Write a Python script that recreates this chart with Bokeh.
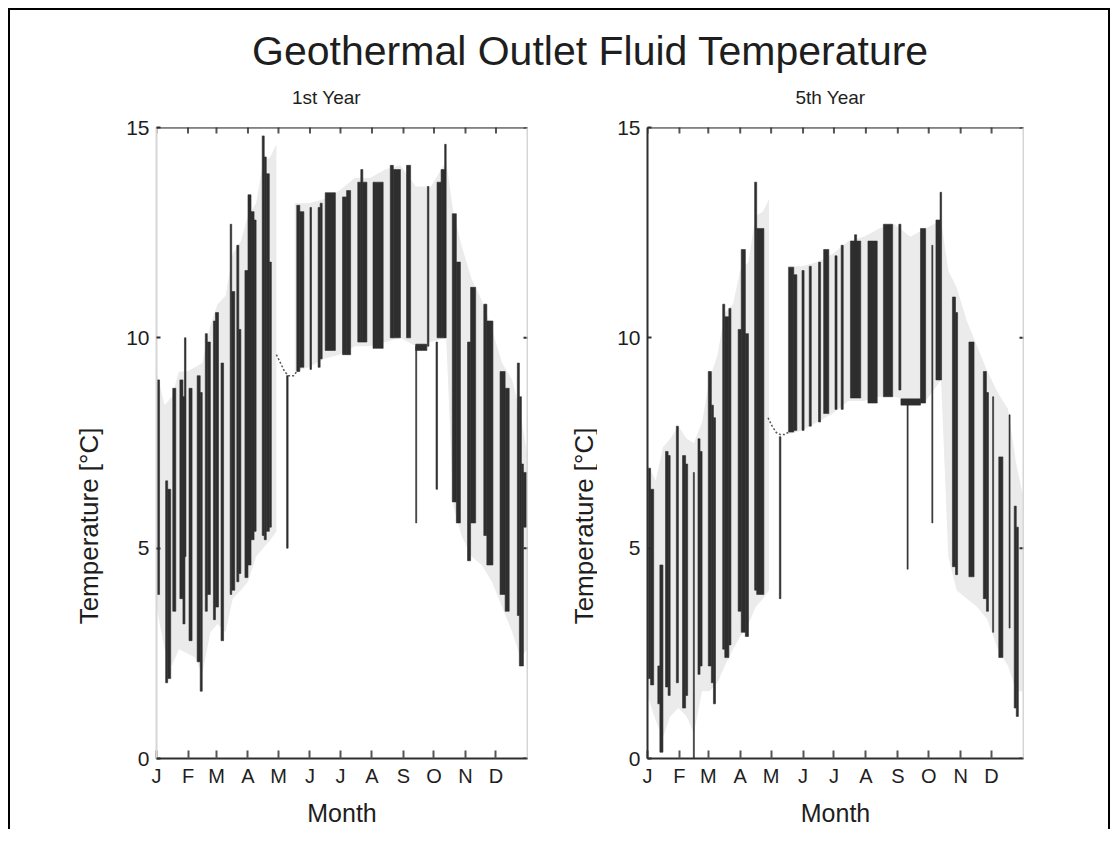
import math
from bokeh.plotting import figure
from bokeh.models import FixedTicker, LinearAxis, Range1d, Label, Span
from bokeh.layouts import column, row
from bokeh.embed import file_html
from bokeh.resources import INLINE

# ---------------- data ----------------
month_starts = [0, 31, 59, 90, 120, 151, 181, 212, 243, 273, 304, 334]
month_labels = ["J", "F", "M", "A", "M", "J", "J", "A", "S", "O", "N", "D"]
temp_ticks = [0, 5, 10, 15]

# 1st year: dark oscillation bands (day start, day end, low, high)
y1_d0 = [0.5, 9, 11, 16, 23, 26, 27.5, 32, 40, 43, 48, 50, 56, 58, 63.5, 72.5, 74, 79, 81, 87, 90, 93, 96,
         104, 106, 108, 111, 128, 138, 141, 151, 159, 161, 166, 183, 187, 198, 201, 203, 213, 230, 233,
         246, 255, 255, 266.5, 275, 276, 280, 283.5, 291, 295, 306, 309, 322, 325, 338, 343, 355, 357,
         359, 361]
y1_d1 = [3, 11, 14, 19, 26, 28, 29, 35, 43, 45, 50, 53, 58, 61, 66, 74, 77, 81, 83, 90, 93, 96, 98,
         106, 108, 111, 113, 129.5, 141, 145, 152.5, 161, 163, 176, 187, 191, 201, 203, 207, 223, 233, 240,
         250, 256, 266, 268, 276.5, 280, 284, 285, 295, 299, 309, 314, 325, 331, 343, 347, 357, 359,
         361, 364]
y1_lo = [3.9, 1.8, 1.9, 3.5, 3.8, 3.2, 4.8, 2.8, 2.3, 1.6, 3.5, 3.9, 3.3, 3.6, 2.8, 3.9, 4.0, 4.2, 4.4, 4.3, 4.6,
         5.2, 5.4, 5.3, 5.2, 5.4, 5.5, 5.0, 9.2, 9.3, 9.25, 9.3, 9.5, 9.7, 9.6, 9.6, 9.9, 9.9, 9.9, 9.75,
         10.0, 10.0, 10.0, 5.6, 9.7, 9.8, 6.4, 10.0, 10.0, 10.0, 6.1, 5.6, 4.7, 5.6, 5.3, 4.6, 3.9, 3.5,
         3.4, 2.2, 2.2, 5.5]
y1_hi = [9.0, 6.6, 6.4, 8.8, 9.0, 8.6, 10.0, 8.8, 9.1, 8.7, 10.1, 9.9, 10.4, 10.6, 9.4, 12.7, 11.1, 12.2, 10.2,
         11.6, 13.4, 13.0, 12.8, 14.8, 14.3, 13.9, 11.8, 9.1, 13.15, 13.0, 13.1, 13.1, 13.2, 13.45, 13.35,
         13.5, 13.7, 14.0, 13.7, 13.7, 14.1, 14.0, 14.1, 9.8, 9.85, 13.6, 9.9, 13.7, 14.0, 14.6, 12.95,
         11.8, 9.9, 11.2, 10.8, 10.4, 9.2, 8.8, 9.4, 8.6, 7.0, 6.8]

# 1st year: light envelope (spring, then summer/autumn)
y1_env1_day = [0, 8, 15, 22, 30, 38, 45, 53, 60, 68, 75, 83, 90, 98, 105, 112, 118]
y1_env1_lo = [3.6, 2.6, 2.2, 2.6, 2.5, 2.4, 2.0, 3.0, 3.2, 3.0, 3.8, 4.0, 4.2, 4.8, 5.0, 5.2, 5.4]
y1_env1_hi = [9.2, 8.4, 8.6, 9.2, 9.2, 9.3, 9.4, 10.3, 10.8, 11.0, 12.0, 12.3, 12.9, 13.2, 14.2, 14.3, 14.6]
y1_env2_day = [136, 150, 165, 180, 195, 210, 225, 240, 255, 270, 285, 292, 300, 310, 320, 330, 340, 350, 358, 365]
y1_env2_lo = [9.2, 9.3, 9.5, 9.6, 9.8, 9.8, 9.9, 10.0, 9.8, 9.9, 10.0, 6.0, 5.3, 4.8, 4.6, 4.2, 3.6, 3.0, 2.4, 2.6]
y1_env2_hi = [13.2, 13.2, 13.3, 13.5, 13.8, 13.8, 14.0, 14.1, 13.6, 13.6, 14.2, 13.0, 12.2, 11.4, 10.9, 10.2,
              9.4, 9.0, 8.2, 7.2]
# 1st year: transition in May
y1_tr_day = [118, 122, 126, 130, 135, 138]
y1_tr_t = [9.6, 9.4, 9.2, 9.1, 9.1, 9.2]

# 5th year: dark oscillation bands
y5_d0 = [1, 3, 10, 12, 17.5, 20, 28, 34, 37, 44.5, 49, 51, 59, 62, 64, 73, 75, 79, 88, 91, 95, 104, 106,
         128, 137, 142, 150, 157, 166, 171, 182, 188, 197, 201, 214, 229, 244, 246, 252, 265, 276, 280,
         284, 296, 299, 312, 326, 329, 335, 341, 351, 356, 358]
y5_d1 = [3, 6, 12, 15, 20, 22, 30, 37, 39, 45.5, 51, 53, 62, 64, 66, 75, 79, 81, 91, 95, 98, 106, 113,
         129.5, 142, 145, 152, 159, 168, 176, 184, 190, 207, 203, 223, 238, 246, 265, 253, 270, 277, 284,
         285.5, 299, 301, 317, 329, 331, 336, 345, 352, 358, 360]
y5_lo = [1.9, 1.75, 1.3, 0.15, 1.7, 1.5, 1.8, 1.2, 1.5, 0.0, 2.0, 2.2, 2.2, 1.8, 1.3, 2.6, 2.4, 2.7, 3.5, 3.0,
         2.9, 4.0, 3.9, 3.8, 7.76, 7.8, 7.8, 7.9, 8.0, 8.2, 8.3, 8.3, 8.57, 8.6, 8.45, 8.6, 8.76, 8.4,
         4.5, 8.45, 5.6, 9.0, 9.0, 4.56, 4.37, 4.32, 3.8, 3.5, 3.0, 2.4, 3.1, 1.2, 1.0]
y5_hi = [6.9, 6.4, 2.2, 4.6, 7.3, 7.2, 7.9, 7.2, 7.0, 6.8, 7.6, 7.3, 9.2, 8.4, 8.1, 10.8, 10.5, 10.7, 10.2,
         12.1, 10.1, 13.7, 12.6, 7.65, 11.68, 11.5, 11.6, 11.7, 11.8, 12.1, 11.95, 12.2, 12.3, 12.45,
         12.3, 12.7, 12.7, 8.55, 8.45, 12.6, 12.2, 12.8, 13.46, 10.97, 10.6, 9.9, 9.2, 8.7, 8.6, 7.17,
         8.17, 6.0, 5.5]

y5_env1_day = [0, 8, 15, 22, 30, 38, 45, 53, 60, 68, 75, 83, 90, 98, 105, 112, 118]
y5_env1_lo = [1.5, 0.9, 0.5, 1.0, 1.2, 1.0, 0.6, 1.6, 1.6, 1.8, 2.2, 2.6, 2.9, 3.2, 3.6, 3.8, 4.0]
y5_env1_hi = [7.0, 6.6, 7.4, 7.6, 7.9, 7.6, 7.5, 8.0, 9.0, 9.6, 10.6, 10.8, 11.6, 11.8, 12.9, 13.0, 13.3]
y5_env2_day = [136, 150, 165, 180, 195, 210, 225, 240, 255, 270, 285, 292, 300, 310, 320, 330, 340, 350, 358, 365]
y5_env2_lo = [7.7, 7.8, 8.0, 8.2, 8.5, 8.5, 8.6, 8.6, 8.5, 8.5, 9.0, 4.8, 4.0, 3.8, 3.6, 3.3, 2.6, 2.2, 1.6, 1.6]
y5_env2_hi = [11.7, 11.7, 11.8, 12.0, 12.3, 12.4, 12.6, 12.7, 12.4, 12.6, 12.8, 11.6, 11.2, 10.4, 9.8, 9.2,
              8.7, 8.3, 7.0, 6.2]
y5_tr_day = [117, 121, 125, 129, 133, 137]
y5_tr_t = [8.1, 7.9, 7.75, 7.7, 7.7, 7.76]

FONT = "Liberation Sans"
TXT = "#1e1e1e"
DARK = "#2e2e2e"
ENV = "#ebebeb"
LIGHT = "#d6d6d6"
PANEL_H = 17 + 632 + 70


def panel(d0, d1, lo, hi, e1d, e1lo, e1hi, e2d, e2lo, e2hi, trd, trt,
          left_border, right_border, frame_w, left_line_color):
    p = figure(width=left_border + frame_w + right_border, height=PANEL_H,
               x_range=Range1d(0, 365), y_range=Range1d(0, 15),
               toolbar_location=None, output_backend="svg",
               min_border_left=left_border, min_border_right=right_border,
               min_border_top=17, min_border_bottom=70,
               x_axis_location=None, y_axis_location=None)
    p.grid.visible = False
    p.outline_line_color = LIGHT
    p.outline_line_width = 1
    p.background_fill_color = "white"
    p.border_fill_color = "white"

    p.varea(x=e1d, y1=e1lo, y2=e1hi, fill_color=ENV)
    p.varea(x=e2d, y1=e2lo, y2=e2hi, fill_color=ENV)
    p.line(x=trd, y=trt, line_color="#555555", line_width=1.5, line_dash="2 2")
    p.quad(left=d0, right=d1, bottom=lo, top=hi, fill_color=DARK, line_color=DARK, line_width=0.6)

    # inward ticks on the top and right edges of the box
    p.scatter(x=month_starts, y=[15] * len(month_starts), marker="dash", angle=math.pi / 2,
              size=12, line_color="#555555", line_width=2)
    p.scatter(x=[365] * len(temp_ticks), y=temp_ticks, marker="dash",
              size=8, line_color=DARK, line_width=2)
    p.add_layout(Span(location=15, dimension="width", line_color=DARK, line_width=2))
    p.add_layout(Span(location=365, dimension="height", line_color=LIGHT, line_width=2))

    xt = FixedTicker(ticks=month_starts)
    yt = FixedTicker(ticks=temp_ticks)

    xb = LinearAxis(ticker=xt, axis_label="Month")
    xb.major_label_overrides = {m: l for m, l in zip(month_starts, month_labels)}
    xb.major_tick_in = 8
    xb.major_tick_out = 0
    xb.minor_tick_line_color = None
    xb.axis_line_color = DARK
    xb.axis_line_width = 2
    xb.major_tick_line_color = "#555555"
    xb.major_tick_line_width = 2
    xb.major_label_standoff = 6
    xb.major_label_text_font = FONT
    xb.major_label_text_font_size = "20px"
    xb.major_label_text_color = TXT
    xb.axis_label_text_font = FONT
    xb.axis_label_text_font_size = "25px"
    xb.axis_label_text_font_style = "normal"
    xb.axis_label_text_color = TXT
    xb.axis_label_standoff = 9
    p.add_layout(xb, "below")

    yl = LinearAxis(ticker=yt)
    yl.major_tick_in = 4
    yl.major_tick_out = 0
    yl.minor_tick_line_color = None
    yl.axis_line_color = left_line_color
    yl.axis_line_width = 2
    yl.major_tick_line_color = DARK
    yl.major_tick_line_width = 2
    yl.major_label_standoff = 7
    yl.major_label_text_font = FONT
    yl.major_label_text_font_size = "21px"
    yl.major_label_text_color = TXT
    p.add_layout(yl, "left")
    return p


def ylabel_strip(w, cx):
    s = figure(width=w, height=PANEL_H, x_range=Range1d(0, w), y_range=Range1d(0, PANEL_H),
               toolbar_location=None, output_backend="svg", min_border=0,
               x_axis_location=None, y_axis_location=None)
    s.grid.visible = False
    s.outline_line_color = None
    s.add_layout(Label(x=cx, y=265, text="Temperature [°C]", angle=math.pi / 2,
                       text_font=FONT, text_font_size="26px", text_align="center",
                       text_baseline="middle", text_color=TXT))
    return s


p1 = panel(y1_d0, y1_d1, y1_lo, y1_hi, y1_env1_day, y1_env1_lo, y1_env1_hi,
           y1_env2_day, y1_env2_lo, y1_env2_hi, y1_tr_day, y1_tr_t,
           46, 20, 371, LIGHT)
p2 = panel(y5_d0, y5_d1, y5_lo, y5_hi, y5_env1_day, y5_env1_lo, y5_env1_hi,
           y5_env2_day, y5_env2_lo, y5_env2_hi, y5_tr_day, y5_tr_t,
           50, 10, 376, DARK)
s1 = ylabel_strip(100, 78)
s2 = ylabel_strip(50, 36)

# header with main title and panel titles
p0 = figure(width=1098, height=100, x_range=Range1d(0, 1098), y_range=Range1d(0, 100),
            toolbar_location=None, output_backend="svg", min_border=0,
            x_axis_location=None, y_axis_location=None)
p0.grid.visible = False
p0.outline_line_color = None
p0.add_layout(Label(x=580, y=60, text="Geothermal Outlet Fluid Temperature", text_font=FONT,
                    text_font_size="41px", text_align="center", text_baseline="middle",
                    text_color=TXT))
p0.add_layout(Label(x=316, y=13, text="1st Year", text_font=FONT, text_font_size="19px",
                    text_align="center", text_baseline="middle", text_color=TXT))
p0.add_layout(Label(x=820, y=13, text="5th Year", text_font=FONT, text_font_size="19px",
                    text_align="center", text_baseline="middle", text_color=TXT))

layout = column(p0, row(s1, p1, s2, p2),
                styles={"border-left": "2px solid black", "border-top": "2px solid black",
                        "border-right": "2px solid black", "margin-left": "8px",
                        "margin-top": "8px"})

open("out.html", "w").write(file_html(layout, INLINE))
